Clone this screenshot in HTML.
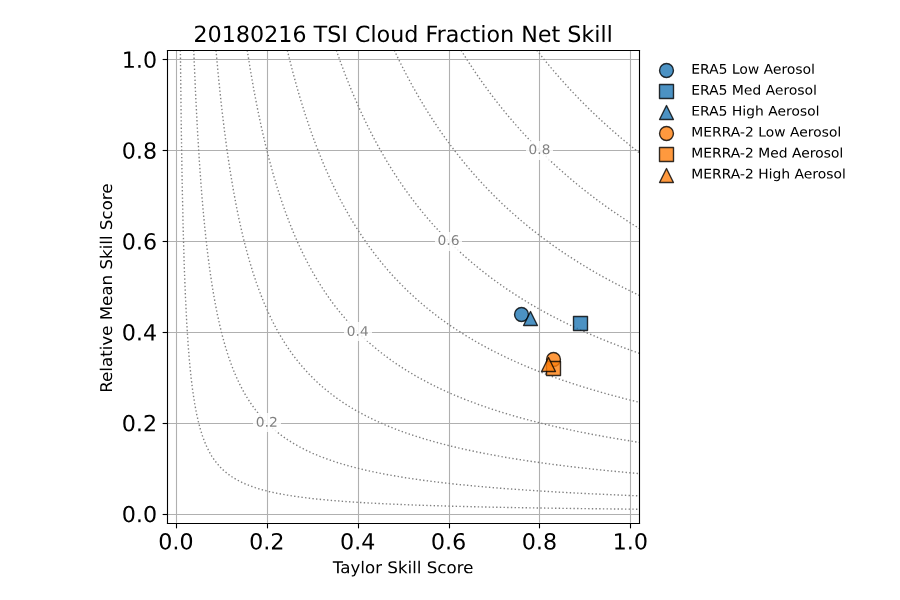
<!DOCTYPE html>
<html><head><meta charset="utf-8"><title>20180216 TSI Cloud Fraction Net Skill</title>
<style>html,body{margin:0;padding:0;background:#fff;width:900px;height:600px;overflow:hidden;font-family:"Liberation Sans",sans-serif}svg{display:block}</style>
</head><body>
<svg width="900" height="600" viewBox="0 0 648 432" version="1.1">
<defs>
<style type="text/css">*{stroke-linejoin: round; stroke-linecap: butt}</style>
</defs>
<g>
<g>
<path d="M 0 432 L 648 432 L 648 0 L 0 0 z
" style="fill: #ffffff"/>
</g>
<g>
<g>
<path d="M 120.11904 376.40736 L 460.37376 376.40736 L 460.37376 36.15264 L 120.11904 36.15264 z
" style="fill: #ffffff"/>
</g>
<g>
<g>
<g>
<path d="M 127.0800 376.9200 L 127.0800 36.3600 " clip-path="url(#p925bb05087)" style="fill: none; stroke: #b0b0b0; stroke-width: 0.8; stroke-linecap: square"/>
</g>
<g>
<defs>
<path id="m7c25c535dc" d="M 0 0 L 0 3.5 " style="stroke: #000000; stroke-width: 0.8"/>
</defs>
<g>
<use href="#m7c25c535dc" x="127.0800" y="376.9200" style="stroke: #000000; stroke-width: 0.8"/>
</g>
</g>
<g>
<g transform="translate(113.9399 395.5649) scale(0.16 -0.16)">
<defs>
<path id="DejaVuSans-30" d="M 2034 4250 Q 1547 4250 1301 3770 Q 1056 3291 1056 2328 Q 1056 1369 1301 889 Q 1547 409 2034 409 Q 2525 409 2770 889 Q 3016 1369 3016 2328 Q 3016 3291 2770 3770 Q 2525 4250 2034 4250 z
M 2034 4750 Q 2819 4750 3233 4129 Q 3647 3509 3647 2328 Q 3647 1150 3233 529 Q 2819 -91 2034 -91 Q 1250 -91 836 529 Q 422 1150 422 2328 Q 422 3509 836 4129 Q 1250 4750 2034 4750 z
" transform="scale(0.015625)"/>
<path id="DejaVuSans-2e" d="M 684 794 L 1344 794 L 1344 0 L 684 0 L 684 794 z
" transform="scale(0.015625)"/>
</defs>
<use href="#DejaVuSans-30"/>
<use href="#DejaVuSans-2e" transform="translate(63.623047 0)"/>
<use href="#DejaVuSans-30" transform="translate(95.410156 0)"/>
</g>
</g>
</g>
<g>
<g>
<path d="M 192.6000 376.9200 L 192.6000 36.3600 " clip-path="url(#p925bb05087)" style="fill: none; stroke: #b0b0b0; stroke-width: 0.8; stroke-linecap: square"/>
</g>
<g>
<g>
<use href="#m7c25c535dc" x="192.6000" y="376.9200" style="stroke: #000000; stroke-width: 0.8"/>
</g>
</g>
<g>
<g transform="translate(179.3735 395.5649) scale(0.16 -0.16)">
<defs>
<path id="DejaVuSans-32" d="M 1228 531 L 3431 531 L 3431 0 L 469 0 L 469 531 Q 828 903 1448 1529 Q 2069 2156 2228 2338 Q 2531 2678 2651 2914 Q 2772 3150 2772 3378 Q 2772 3750 2511 3984 Q 2250 4219 1831 4219 Q 1534 4219 1204 4116 Q 875 4013 500 3803 L 500 4441 Q 881 4594 1212 4672 Q 1544 4750 1819 4750 Q 2544 4750 2975 4387 Q 3406 4025 3406 3419 Q 3406 3131 3298 2873 Q 3191 2616 2906 2266 Q 2828 2175 2409 1742 Q 1991 1309 1228 531 z
" transform="scale(0.015625)"/>
</defs>
<use href="#DejaVuSans-30"/>
<use href="#DejaVuSans-2e" transform="translate(63.623047 0)"/>
<use href="#DejaVuSans-32" transform="translate(95.410156 0)"/>
</g>
</g>
</g>
<g>
<g>
<path d="M 258.1200 376.9200 L 258.1200 36.3600 " clip-path="url(#p925bb05087)" style="fill: none; stroke: #b0b0b0; stroke-width: 0.8; stroke-linecap: square"/>
</g>
<g>
<g>
<use href="#m7c25c535dc" x="258.1200" y="376.9200" style="stroke: #000000; stroke-width: 0.8"/>
</g>
</g>
<g>
<g transform="translate(244.8071 395.5649) scale(0.16 -0.16)">
<defs>
<path id="DejaVuSans-34" d="M 2419 4116 L 825 1625 L 2419 1625 L 2419 4116 z
M 2253 4666 L 3047 4666 L 3047 1625 L 3713 1625 L 3713 1100 L 3047 1100 L 3047 0 L 2419 0 L 2419 1100 L 313 1100 L 313 1709 L 2253 4666 z
" transform="scale(0.015625)"/>
</defs>
<use href="#DejaVuSans-30"/>
<use href="#DejaVuSans-2e" transform="translate(63.623047 0)"/>
<use href="#DejaVuSans-34" transform="translate(95.410156 0)"/>
</g>
</g>
</g>
<g>
<g>
<path d="M 323.6400 376.9200 L 323.6400 36.3600 " clip-path="url(#p925bb05087)" style="fill: none; stroke: #b0b0b0; stroke-width: 0.8; stroke-linecap: square"/>
</g>
<g>
<g>
<use href="#m7c25c535dc" x="323.6400" y="376.9200" style="stroke: #000000; stroke-width: 0.8"/>
</g>
</g>
<g>
<g transform="translate(310.2407 395.5649) scale(0.16 -0.16)">
<defs>
<path id="DejaVuSans-36" d="M 2113 2584 Q 1688 2584 1439 2293 Q 1191 2003 1191 1497 Q 1191 994 1439 701 Q 1688 409 2113 409 Q 2538 409 2786 701 Q 3034 994 3034 1497 Q 3034 2003 2786 2293 Q 2538 2584 2113 2584 z
M 3366 4563 L 3366 3988 Q 3128 4100 2886 4159 Q 2644 4219 2406 4219 Q 1781 4219 1451 3797 Q 1122 3375 1075 2522 Q 1259 2794 1537 2939 Q 1816 3084 2150 3084 Q 2853 3084 3261 2657 Q 3669 2231 3669 1497 Q 3669 778 3244 343 Q 2819 -91 2113 -91 Q 1303 -91 875 529 Q 447 1150 447 2328 Q 447 3434 972 4092 Q 1497 4750 2381 4750 Q 2619 4750 2861 4703 Q 3103 4656 3366 4563 z
" transform="scale(0.015625)"/>
</defs>
<use href="#DejaVuSans-30"/>
<use href="#DejaVuSans-2e" transform="translate(63.623047 0)"/>
<use href="#DejaVuSans-36" transform="translate(95.410156 0)"/>
</g>
</g>
</g>
<g>
<g>
<path d="M 388.4400 376.9200 L 388.4400 36.3600 " clip-path="url(#p925bb05087)" style="fill: none; stroke: #b0b0b0; stroke-width: 0.8; stroke-linecap: square"/>
</g>
<g>
<g>
<use href="#m7c25c535dc" x="388.4400" y="376.9200" style="stroke: #000000; stroke-width: 0.8"/>
</g>
</g>
<g>
<g transform="translate(375.6743 395.5649) scale(0.16 -0.16)">
<defs>
<path id="DejaVuSans-38" d="M 2034 2216 Q 1584 2216 1326 1975 Q 1069 1734 1069 1313 Q 1069 891 1326 650 Q 1584 409 2034 409 Q 2484 409 2743 651 Q 3003 894 3003 1313 Q 3003 1734 2745 1975 Q 2488 2216 2034 2216 z
M 1403 2484 Q 997 2584 770 2862 Q 544 3141 544 3541 Q 544 4100 942 4425 Q 1341 4750 2034 4750 Q 2731 4750 3128 4425 Q 3525 4100 3525 3541 Q 3525 3141 3298 2862 Q 3072 2584 2669 2484 Q 3125 2378 3379 2068 Q 3634 1759 3634 1313 Q 3634 634 3220 271 Q 2806 -91 2034 -91 Q 1263 -91 848 271 Q 434 634 434 1313 Q 434 1759 690 2068 Q 947 2378 1403 2484 z
M 1172 3481 Q 1172 3119 1398 2916 Q 1625 2713 2034 2713 Q 2441 2713 2670 2916 Q 2900 3119 2900 3481 Q 2900 3844 2670 4047 Q 2441 4250 2034 4250 Q 1625 4250 1398 4047 Q 1172 3844 1172 3481 z
" transform="scale(0.015625)"/>
</defs>
<use href="#DejaVuSans-30"/>
<use href="#DejaVuSans-2e" transform="translate(63.623047 0)"/>
<use href="#DejaVuSans-38" transform="translate(95.410156 0)"/>
</g>
</g>
</g>
<g>
<g>
<path d="M 453.9600 376.9200 L 453.9600 36.3600 " clip-path="url(#p925bb05087)" style="fill: none; stroke: #b0b0b0; stroke-width: 0.8; stroke-linecap: square"/>
</g>
<g>
<g>
<use href="#m7c25c535dc" x="453.9600" y="376.9200" style="stroke: #000000; stroke-width: 0.8"/>
</g>
</g>
<g>
<g transform="translate(441.1079 395.5649) scale(0.16 -0.16)">
<defs>
<path id="DejaVuSans-31" d="M 794 531 L 1825 531 L 1825 4091 L 703 3866 L 703 4441 L 1819 4666 L 2450 4666 L 2450 531 L 3481 531 L 3481 0 L 794 0 L 794 531 z
" transform="scale(0.015625)"/>
</defs>
<use href="#DejaVuSans-31"/>
<use href="#DejaVuSans-2e" transform="translate(63.623047 0)"/>
<use href="#DejaVuSans-30" transform="translate(95.410156 0)"/>
</g>
</g>
</g>
<g>
<g transform="translate(239.6383 412.6585) scale(0.12 -0.1164)">
<defs>
<path id="DejaVuSans-54" d="M -19 4666 L 3928 4666 L 3928 4134 L 2272 4134 L 2272 0 L 1638 0 L 1638 4134 L -19 4134 L -19 4666 z
" transform="scale(0.015625)"/>
<path id="DejaVuSans-61" d="M 2194 1759 Q 1497 1759 1228 1600 Q 959 1441 959 1056 Q 959 750 1161 570 Q 1363 391 1709 391 Q 2188 391 2477 730 Q 2766 1069 2766 1631 L 2766 1759 L 2194 1759 z
M 3341 1997 L 3341 0 L 2766 0 L 2766 531 Q 2569 213 2275 61 Q 1981 -91 1556 -91 Q 1019 -91 701 211 Q 384 513 384 1019 Q 384 1609 779 1909 Q 1175 2209 1959 2209 L 2766 2209 L 2766 2266 Q 2766 2663 2505 2880 Q 2244 3097 1772 3097 Q 1472 3097 1187 3025 Q 903 2953 641 2809 L 641 3341 Q 956 3463 1253 3523 Q 1550 3584 1831 3584 Q 2591 3584 2966 3190 Q 3341 2797 3341 1997 z
" transform="scale(0.015625)"/>
<path id="DejaVuSans-79" d="M 2059 -325 Q 1816 -950 1584 -1140 Q 1353 -1331 966 -1331 L 506 -1331 L 506 -850 L 844 -850 Q 1081 -850 1212 -737 Q 1344 -625 1503 -206 L 1606 56 L 191 3500 L 800 3500 L 1894 763 L 2988 3500 L 3597 3500 L 2059 -325 z
" transform="scale(0.015625)"/>
<path id="DejaVuSans-6c" d="M 603 4863 L 1178 4863 L 1178 0 L 603 0 L 603 4863 z
" transform="scale(0.015625)"/>
<path id="DejaVuSans-6f" d="M 1959 3097 Q 1497 3097 1228 2736 Q 959 2375 959 1747 Q 959 1119 1226 758 Q 1494 397 1959 397 Q 2419 397 2687 759 Q 2956 1122 2956 1747 Q 2956 2369 2687 2733 Q 2419 3097 1959 3097 z
M 1959 3584 Q 2709 3584 3137 3096 Q 3566 2609 3566 1747 Q 3566 888 3137 398 Q 2709 -91 1959 -91 Q 1206 -91 779 398 Q 353 888 353 1747 Q 353 2609 779 3096 Q 1206 3584 1959 3584 z
" transform="scale(0.015625)"/>
<path id="DejaVuSans-72" d="M 2631 2963 Q 2534 3019 2420 3045 Q 2306 3072 2169 3072 Q 1681 3072 1420 2755 Q 1159 2438 1159 1844 L 1159 0 L 581 0 L 581 3500 L 1159 3500 L 1159 2956 Q 1341 3275 1631 3429 Q 1922 3584 2338 3584 Q 2397 3584 2469 3576 Q 2541 3569 2628 3553 L 2631 2963 z
" transform="scale(0.015625)"/>
<path id="DejaVuSans-20" transform="scale(0.015625)"/>
<path id="DejaVuSans-53" d="M 3425 4513 L 3425 3897 Q 3066 4069 2747 4153 Q 2428 4238 2131 4238 Q 1616 4238 1336 4038 Q 1056 3838 1056 3469 Q 1056 3159 1242 3001 Q 1428 2844 1947 2747 L 2328 2669 Q 3034 2534 3370 2195 Q 3706 1856 3706 1288 Q 3706 609 3251 259 Q 2797 -91 1919 -91 Q 1588 -91 1214 -16 Q 841 59 441 206 L 441 856 Q 825 641 1194 531 Q 1563 422 1919 422 Q 2459 422 2753 634 Q 3047 847 3047 1241 Q 3047 1584 2836 1778 Q 2625 1972 2144 2069 L 1759 2144 Q 1053 2284 737 2584 Q 422 2884 422 3419 Q 422 4038 858 4394 Q 1294 4750 2059 4750 Q 2388 4750 2728 4690 Q 3069 4631 3425 4513 z
" transform="scale(0.015625)"/>
<path id="DejaVuSans-6b" d="M 581 4863 L 1159 4863 L 1159 1991 L 2875 3500 L 3609 3500 L 1753 1863 L 3688 0 L 2938 0 L 1159 1709 L 1159 0 L 581 0 L 581 4863 z
" transform="scale(0.015625)"/>
<path id="DejaVuSans-69" d="M 603 3500 L 1178 3500 L 1178 0 L 603 0 L 603 3500 z
M 603 4863 L 1178 4863 L 1178 4134 L 603 4134 L 603 4863 z
" transform="scale(0.015625)"/>
<path id="DejaVuSans-63" d="M 3122 3366 L 3122 2828 Q 2878 2963 2633 3030 Q 2388 3097 2138 3097 Q 1578 3097 1268 2742 Q 959 2388 959 1747 Q 959 1106 1268 751 Q 1578 397 2138 397 Q 2388 397 2633 464 Q 2878 531 3122 666 L 3122 134 Q 2881 22 2623 -34 Q 2366 -91 2075 -91 Q 1284 -91 818 406 Q 353 903 353 1747 Q 353 2603 823 3093 Q 1294 3584 2113 3584 Q 2378 3584 2631 3529 Q 2884 3475 3122 3366 z
" transform="scale(0.015625)"/>
<path id="DejaVuSans-65" d="M 3597 1894 L 3597 1613 L 953 1613 Q 991 1019 1311 708 Q 1631 397 2203 397 Q 2534 397 2845 478 Q 3156 559 3463 722 L 3463 178 Q 3153 47 2828 -22 Q 2503 -91 2169 -91 Q 1331 -91 842 396 Q 353 884 353 1716 Q 353 2575 817 3079 Q 1281 3584 2069 3584 Q 2775 3584 3186 3129 Q 3597 2675 3597 1894 z
M 3022 2063 Q 3016 2534 2758 2815 Q 2500 3097 2075 3097 Q 1594 3097 1305 2825 Q 1016 2553 972 2059 L 3022 2063 z
" transform="scale(0.015625)"/>
</defs>
<use href="#DejaVuSans-54"/>
<use href="#DejaVuSans-61" transform="translate(44.583984 0)"/>
<use href="#DejaVuSans-79" transform="translate(105.863281 0)"/>
<use href="#DejaVuSans-6c" transform="translate(165.042969 0)"/>
<use href="#DejaVuSans-6f" transform="translate(192.826172 0)"/>
<use href="#DejaVuSans-72" transform="translate(254.007812 0)"/>
<use href="#DejaVuSans-20" transform="translate(295.121094 0)"/>
<use href="#DejaVuSans-53" transform="translate(326.908203 0)"/>
<use href="#DejaVuSans-6b" transform="translate(390.384766 0)"/>
<use href="#DejaVuSans-69" transform="translate(448.294922 0)"/>
<use href="#DejaVuSans-6c" transform="translate(476.078125 0)"/>
<use href="#DejaVuSans-6c" transform="translate(503.861328 0)"/>
<use href="#DejaVuSans-20" transform="translate(531.644531 0)"/>
<use href="#DejaVuSans-53" transform="translate(563.431641 0)"/>
<use href="#DejaVuSans-63" transform="translate(626.908203 0)"/>
<use href="#DejaVuSans-6f" transform="translate(681.888672 0)"/>
<use href="#DejaVuSans-72" transform="translate(743.070312 0)"/>
<use href="#DejaVuSans-65" transform="translate(781.933594 0)"/>
</g>
</g>
</g>
<g>
<g>
<g>
<path d="M 120.6000 370.4400 L 460.4400 370.4400 " clip-path="url(#p925bb05087)" style="fill: none; stroke: #b0b0b0; stroke-width: 0.8; stroke-linecap: square"/>
</g>
<g>
<defs>
<path id="mb258c49b38" d="M 0 0 L -3.5 0 " style="stroke: #000000; stroke-width: 0.8"/>
</defs>
<g>
<use href="#mb258c49b38" x="120.6000" y="370.4400" style="stroke: #000000; stroke-width: 0.8"/>
</g>
</g>
<g>
<g transform="translate(87.6740 375.9427) scale(0.16 -0.16)">
<use href="#DejaVuSans-30"/>
<use href="#DejaVuSans-2e" transform="translate(63.623047 0)"/>
<use href="#DejaVuSans-30" transform="translate(95.410156 0)"/>
</g>
</g>
</g>
<g>
<g>
<path d="M 120.6000 304.9200 L 460.4400 304.9200 " clip-path="url(#p925bb05087)" style="fill: none; stroke: #b0b0b0; stroke-width: 0.8; stroke-linecap: square"/>
</g>
<g>
<g>
<use href="#mb258c49b38" x="120.6000" y="304.9200" style="stroke: #000000; stroke-width: 0.8"/>
</g>
</g>
<g>
<g transform="translate(87.6740 310.5091) scale(0.16 -0.16)">
<use href="#DejaVuSans-30"/>
<use href="#DejaVuSans-2e" transform="translate(63.623047 0)"/>
<use href="#DejaVuSans-32" transform="translate(95.410156 0)"/>
</g>
</g>
</g>
<g>
<g>
<path d="M 120.6000 239.4000 L 460.4400 239.4000 " clip-path="url(#p925bb05087)" style="fill: none; stroke: #b0b0b0; stroke-width: 0.8; stroke-linecap: square"/>
</g>
<g>
<g>
<use href="#mb258c49b38" x="120.6000" y="239.4000" style="stroke: #000000; stroke-width: 0.8"/>
</g>
</g>
<g>
<g transform="translate(87.6740 245.0755) scale(0.16 -0.16)">
<use href="#DejaVuSans-30"/>
<use href="#DejaVuSans-2e" transform="translate(63.623047 0)"/>
<use href="#DejaVuSans-34" transform="translate(95.410156 0)"/>
</g>
</g>
</g>
<g>
<g>
<path d="M 120.6000 173.8800 L 460.4400 173.8800 " clip-path="url(#p925bb05087)" style="fill: none; stroke: #b0b0b0; stroke-width: 0.8; stroke-linecap: square"/>
</g>
<g>
<g>
<use href="#mb258c49b38" x="120.6000" y="173.8800" style="stroke: #000000; stroke-width: 0.8"/>
</g>
</g>
<g>
<g transform="translate(87.6740 179.6420) scale(0.16 -0.16)">
<use href="#DejaVuSans-30"/>
<use href="#DejaVuSans-2e" transform="translate(63.623047 0)"/>
<use href="#DejaVuSans-36" transform="translate(95.410156 0)"/>
</g>
</g>
</g>
<g>
<g>
<path d="M 120.6000 108.3600 L 460.4400 108.3600 " clip-path="url(#p925bb05087)" style="fill: none; stroke: #b0b0b0; stroke-width: 0.8; stroke-linecap: square"/>
</g>
<g>
<g>
<use href="#mb258c49b38" x="120.6000" y="108.3600" style="stroke: #000000; stroke-width: 0.8"/>
</g>
</g>
<g>
<g transform="translate(87.6740 114.2083) scale(0.16 -0.16)">
<use href="#DejaVuSans-30"/>
<use href="#DejaVuSans-2e" transform="translate(63.623047 0)"/>
<use href="#DejaVuSans-38" transform="translate(95.410156 0)"/>
</g>
</g>
</g>
<g>
<g>
<path d="M 120.6000 42.8400 L 460.4400 42.8400 " clip-path="url(#p925bb05087)" style="fill: none; stroke: #b0b0b0; stroke-width: 0.8; stroke-linecap: square"/>
</g>
<g>
<g>
<use href="#mb258c49b38" x="120.6000" y="42.8400" style="stroke: #000000; stroke-width: 0.8"/>
</g>
</g>
<g>
<g transform="translate(87.6740 48.7747) scale(0.16 -0.16)">
<use href="#DejaVuSans-31"/>
<use href="#DejaVuSans-2e" transform="translate(63.623047 0)"/>
<use href="#DejaVuSans-30" transform="translate(95.410156 0)"/>
</g>
</g>
</g>
<g>
<g transform="translate(80.6384 282.7845) rotate(-90) scale(0.12 -0.1164)">
<defs>
<path id="DejaVuSans-52" d="M 2841 2188 Q 3044 2119 3236 1894 Q 3428 1669 3622 1275 L 4263 0 L 3584 0 L 2988 1197 Q 2756 1666 2539 1819 Q 2322 1972 1947 1972 L 1259 1972 L 1259 0 L 628 0 L 628 4666 L 2053 4666 Q 2853 4666 3247 4331 Q 3641 3997 3641 3322 Q 3641 2881 3436 2590 Q 3231 2300 2841 2188 z
M 1259 4147 L 1259 2491 L 2053 2491 Q 2509 2491 2742 2702 Q 2975 2913 2975 3322 Q 2975 3731 2742 3939 Q 2509 4147 2053 4147 L 1259 4147 z
" transform="scale(0.015625)"/>
<path id="DejaVuSans-74" d="M 1172 4494 L 1172 3500 L 2356 3500 L 2356 3053 L 1172 3053 L 1172 1153 Q 1172 725 1289 603 Q 1406 481 1766 481 L 2356 481 L 2356 0 L 1766 0 Q 1100 0 847 248 Q 594 497 594 1153 L 594 3053 L 172 3053 L 172 3500 L 594 3500 L 594 4494 L 1172 4494 z
" transform="scale(0.015625)"/>
<path id="DejaVuSans-76" d="M 191 3500 L 800 3500 L 1894 563 L 2988 3500 L 3597 3500 L 2284 0 L 1503 0 L 191 3500 z
" transform="scale(0.015625)"/>
<path id="DejaVuSans-4d" d="M 628 4666 L 1569 4666 L 2759 1491 L 3956 4666 L 4897 4666 L 4897 0 L 4281 0 L 4281 4097 L 3078 897 L 2444 897 L 1241 4097 L 1241 0 L 628 0 L 628 4666 z
" transform="scale(0.015625)"/>
<path id="DejaVuSans-6e" d="M 3513 2113 L 3513 0 L 2938 0 L 2938 2094 Q 2938 2591 2744 2837 Q 2550 3084 2163 3084 Q 1697 3084 1428 2787 Q 1159 2491 1159 1978 L 1159 0 L 581 0 L 581 3500 L 1159 3500 L 1159 2956 Q 1366 3272 1645 3428 Q 1925 3584 2291 3584 Q 2894 3584 3203 3211 Q 3513 2838 3513 2113 z
" transform="scale(0.015625)"/>
</defs>
<use href="#DejaVuSans-52"/>
<use href="#DejaVuSans-65" transform="translate(64.982422 0)"/>
<use href="#DejaVuSans-6c" transform="translate(126.505859 0)"/>
<use href="#DejaVuSans-61" transform="translate(154.289062 0)"/>
<use href="#DejaVuSans-74" transform="translate(215.568359 0)"/>
<use href="#DejaVuSans-69" transform="translate(254.777344 0)"/>
<use href="#DejaVuSans-76" transform="translate(282.560547 0)"/>
<use href="#DejaVuSans-65" transform="translate(341.740234 0)"/>
<use href="#DejaVuSans-20" transform="translate(403.263672 0)"/>
<use href="#DejaVuSans-4d" transform="translate(435.050781 0)"/>
<use href="#DejaVuSans-65" transform="translate(521.330078 0)"/>
<use href="#DejaVuSans-61" transform="translate(582.853516 0)"/>
<use href="#DejaVuSans-6e" transform="translate(644.132812 0)"/>
<use href="#DejaVuSans-20" transform="translate(707.511719 0)"/>
<use href="#DejaVuSans-53" transform="translate(739.298828 0)"/>
<use href="#DejaVuSans-6b" transform="translate(802.775391 0)"/>
<use href="#DejaVuSans-69" transform="translate(860.685547 0)"/>
<use href="#DejaVuSans-6c" transform="translate(888.46875 0)"/>
<use href="#DejaVuSans-6c" transform="translate(916.251953 0)"/>
<use href="#DejaVuSans-20" transform="translate(944.035156 0)"/>
<use href="#DejaVuSans-53" transform="translate(975.822266 0)"/>
<use href="#DejaVuSans-63" transform="translate(1039.298828 0)"/>
<use href="#DejaVuSans-6f" transform="translate(1094.279297 0)"/>
<use href="#DejaVuSans-72" transform="translate(1155.460938 0)"/>
<use href="#DejaVuSans-65" transform="translate(1194.324219 0)"/>
</g>
</g>
</g>
<g>
<path d="M 129.876693 36.15264 L 130.479954 88.979519 L 131.163709 131.775979 L 131.89648 165.210712 L 132.679945 191.958499 L 133.474419 212.688034 L 134.472273 232.748875 L 135.456298 248.128852 L 136.542652 261.502746 L 137.624805 272.201861 L 138.785193 281.563586 L 140.108705 290.256617 L 141.477823 297.612258 L 142.823961 303.63051 L 144.244374 308.980068 L 145.708866 313.66093 L 147.172796 317.673098 L 148.880168 321.685267 L 150.768125 325.459491 L 152.461092 328.372213 L 154.238276 331.046992 L 156.279108 333.721771 L 158.645987 336.396549 L 160.798545 338.507057 L 163.473324 340.785029 L 166.148103 342.754702 L 168.822881 344.475224 L 172.333703 346.42697 L 175.509828 347.950066 L 179.521996 349.613354 L 183.731447 351.107832 L 188.215027 352.473913 L 193.564584 353.863928 L 199.582836 355.184462 L 206.938478 356.529331 L 215.350205 357.794779 L 224.993234 358.976608 L 235.023654 359.983748 L 247.728853 361.020879 L 261.102747 361.900444 L 279.157503 362.8409 L 299.218343 363.657734 L 322.622657 364.399616 L 350.039139 365.069794 L 382.805178 365.680933 L 424.264248 366.260512 L 460.37376 366.649707 L 460.37376 366.649707 " clip-path="url(#p925bb05087)" style="fill: none; stroke-dasharray: 1,1.65; stroke-dashoffset: 0; stroke: #808080"/>
<path d="M 139.493544 36.15264 L 140.79583 66.912595 L 142.164672 93.660382 L 143.600303 117.064696 L 145.060336 137.125536 L 146.545247 154.511598 L 148.073286 169.891575 L 149.526342 182.596774 L 151.190883 195.301973 L 152.898996 206.669782 L 154.73931 217.368897 L 156.437288 226.061928 L 158.352825 234.754959 L 160.353705 242.779295 L 162.423538 250.134936 L 164.538873 256.821883 L 166.668504 262.840135 L 168.822881 268.310063 L 171.112192 273.53925 L 173.503744 278.458229 L 175.897166 282.900975 L 178.278233 286.913143 L 180.901527 290.925311 L 183.80627 294.93748 L 186.877638 298.759486 L 189.552416 301.783643 L 192.89589 305.220223 L 196.239363 308.326981 L 199.582836 311.148203 L 202.92631 313.72252 L 206.938478 316.528178 L 210.950646 319.067232 L 215.631509 321.739751 L 220.312371 324.144756 L 225.093938 326.366129 L 230.342792 328.567722 L 236.361044 330.833215 L 242.379296 332.863121 L 249.066242 334.884451 L 255.753189 336.696152 L 263.777525 338.637189 L 272.470556 340.49924 L 281.832282 342.270619 L 291.862702 343.945746 L 303.230511 345.614478 L 315.267015 347.162327 L 329.309604 348.73456 L 344.689581 350.225052 L 361.406948 351.623716 L 379.461704 352.926097 L 400.191239 354.209327 L 423.595553 355.442804 L 451.012035 356.661751 L 460.37376 357.032856 L 460.37376 357.032856 " clip-path="url(#p925bb05087)" style="fill: none; stroke-dasharray: 1,1.65; stroke-dashoffset: 0; stroke: #808080"/>
<path d="M 155.530576 36.15264 L 157.455072 57.013501 L 159.461156 76.148502 L 161.46724 93.077708 L 163.597779 109.04036 L 165.699662 123.082948 L 167.818546 135.788147 L 170.049217 147.824651 L 172.245556 158.523766 L 174.676427 169.22288 L 177.026341 178.584606 L 179.521996 187.616881 L 182.061636 195.970668 L 184.50865 203.326309 L 187.181623 210.68195 L 189.835359 217.368897 L 192.732413 224.055844 L 195.576554 230.074096 L 198.677273 236.092348 L 201.676928 241.441905 L 204.937396 246.791463 L 208.275867 251.825634 L 211.619341 256.471005 L 215.018963 260.834051 L 218.394634 264.846219 L 222.318455 269.153939 L 226.330623 273.20802 L 230.342792 276.948532 L 234.35496 280.410022 L 239.035822 284.136256 L 243.04799 287.091452 L 247.728853 290.291919 L 253.078411 293.659127 L 258.772367 296.943564 L 264.44622 299.946095 L 270.656378 302.961816 L 277.151419 305.848976 L 283.838366 308.572381 L 291.194007 311.312457 L 298.549648 313.818174 L 306.632721 316.335709 L 315.267015 318.785754 L 323.960046 321.036685 L 333.990466 323.398397 L 344.689581 325.67907 L 355.388696 327.745812 L 368.093895 329.961748 L 381.467788 332.055972 L 395.510376 334.030702 L 410.890354 335.969663 L 427.607721 337.852685 L 446.457577 339.740023 L 460.37376 340.995824 L 460.37376 340.995824 " clip-path="url(#p925bb05087)" style="fill: none; stroke-dasharray: 1,1.65; stroke-dashoffset: 0; stroke: #808080"/>
<path d="M 177.98333 36.15264 L 180.349986 50.863923 L 182.945404 65.575206 L 185.540248 78.986773 L 188.221104 91.654298 L 191.005053 103.690802 L 193.875772 115.058612 L 196.630008 125.089032 L 199.582836 135.002144 L 202.425159 143.812483 L 205.455168 152.505514 L 208.475539 160.52985 L 211.736554 168.554186 L 214.962814 175.909937 L 218.443728 183.265469 L 221.855097 189.952415 L 225.529717 196.639362 L 229.088176 202.657614 L 233.01757 208.835275 L 237.033206 214.694118 L 241.041906 220.132335 L 245.20713 225.393233 L 249.176552 230.074096 L 253.747105 235.101518 L 257.970283 239.435821 L 262.440136 243.729525 L 267.346877 248.128852 L 272.470556 252.406529 L 277.820114 256.563402 L 283.169671 260.436096 L 288.709992 264.177524 L 294.53748 267.846059 L 300.831972 271.533166 L 307.242679 275.023851 L 313.929626 278.410353 L 321.285267 281.866708 L 328.640909 285.071447 L 336.665245 288.311543 L 344.689581 291.312787 L 353.382612 294.32486 L 362.744337 297.320062 L 372.106063 300.087066 L 382.136483 302.826701 L 392.835598 305.521347 L 404.203407 308.156675 L 416.239911 310.721442 L 428.94511 313.207255 L 442.987698 315.722664 L 458.367676 318.23286 L 460.37376 318.54307 L 460.37376 318.54307 " clip-path="url(#p925bb05087)" style="fill: none; stroke-dasharray: 1,1.65; stroke-dashoffset: 0; stroke: #808080"/>
<path d="M 206.850795 36.15264 L 209.851445 48.189144 L 213.085115 60.225648 L 216.378814 71.593458 L 219.716702 82.292573 L 223.079732 92.322993 L 226.445528 101.684718 L 230.054898 111.046444 L 233.686265 119.828827 L 237.500366 128.432505 L 241.041906 135.908338 L 245.041296 143.812483 L 248.650067 150.49943 L 252.485435 157.186376 L 256.570005 163.873323 L 260.928613 170.56027 L 265.114915 176.586716 L 269.795777 182.907283 L 274.47664 188.827688 L 279.157503 194.384609 L 283.838366 199.610549 L 288.646018 204.663698 L 293.868786 209.823768 L 299.218343 214.785367 L 304.567901 219.448538 L 310.189489 224.055844 L 315.93571 228.482416 L 321.953962 232.839423 L 327.972214 236.935768 L 334.659161 241.209275 L 341.346108 245.216585 L 348.033054 248.981826 L 355.388696 252.869394 L 363.385914 256.821883 L 370.768673 260.24064 L 379.461704 264.010168 L 388.154735 267.529342 L 397.51646 271.066184 L 406.878186 274.366937 L 416.908606 277.667186 L 427.607721 280.945019 L 439.182494 284.238365 L 451.012035 287.360987 L 460.37376 289.675605 L 460.37376 289.675605 " clip-path="url(#p925bb05087)" style="fill: none; stroke-dasharray: 1,1.65; stroke-dashoffset: 0; stroke: #808080"/>
<path d="M 242.133684 36.15264 L 245.722769 46.213014 L 249.519096 56.21348 L 253.298885 65.575206 L 257.318636 74.936931 L 261.28668 83.629962 L 265.503355 92.322993 L 269.795777 100.646439 L 274.024454 108.371665 L 278.488808 116.060849 L 282.809104 123.082948 L 287.181839 129.805798 L 291.862702 136.607659 L 296.62528 143.143788 L 301.790567 149.830735 L 306.715312 155.848987 L 311.924921 161.867239 L 317.445206 167.885491 L 322.635607 173.235049 L 328.11652 178.584606 L 333.990466 184.003897 L 340.052312 189.283721 L 346.02697 194.201923 L 352.602287 199.314141 L 358.978405 203.995004 L 365.724804 208.675866 L 372.874687 213.356729 L 380.465551 218.037592 L 388.154735 222.501946 L 395.879961 226.730623 L 404.203407 231.023045 L 412.896438 235.23972 L 421.589469 239.207764 L 430.2825 242.948638 L 439.762393 246.791463 L 449.674645 250.567987 L 459.705065 254.161075 L 460.37376 254.392716 L 460.37376 254.392716 " clip-path="url(#p925bb05087)" style="fill: none; stroke-dasharray: 1,1.65; stroke-dashoffset: 0; stroke: #808080"/>
<path d="M 283.831349 36.15264 L 288.035164 44.845671 L 292.531396 53.656205 L 297.212259 62.334756 L 302.113116 70.924763 L 306.952599 78.949099 L 311.923542 86.755105 L 317.016126 94.329077 L 322.237159 101.684718 L 327.30352 108.456614 L 332.653077 115.245295 L 338.049628 121.745558 L 343.904475 128.432505 L 349.45817 134.450757 L 355.388696 140.55467 L 361.463345 146.487261 L 367.964581 152.505514 L 374.112147 157.905528 L 380.799094 163.482569 L 387.48604 168.773742 L 394.313992 173.903743 L 401.528629 179.047195 L 408.88427 184.02057 L 416.239911 188.741204 L 424.264248 193.624811 L 432.288584 198.252037 L 440.981614 202.998243 L 449.674645 207.489041 L 459.036371 212.062608 L 460.37376 212.695051 L 460.37376 212.695051 " clip-path="url(#p925bb05087)" style="fill: none; stroke-dasharray: 1,1.65; stroke-dashoffset: 0; stroke: #808080"/>
<path d="M 331.944313 36.15264 L 337.002188 44.176976 L 342.31548 52.201312 L 347.904117 60.225648 L 353.382612 67.707838 L 358.939915 74.936931 L 364.88119 82.292573 L 370.768673 89.228366 L 376.786926 95.980736 L 382.805178 102.415877 L 389.310824 109.04036 L 395.514237 115.058612 L 402.197323 121.238824 L 408.88427 127.12979 L 416.239911 133.29548 L 423.595553 139.155841 L 430.951194 144.732701 L 438.306836 150.046404 L 446.331172 155.564253 L 454.355508 160.81188 L 460.37376 164.582087 L 460.37376 164.582087 " clip-path="url(#p925bb05087)" style="fill: none; stroke-dasharray: 1,1.65; stroke-dashoffset: 0; stroke: #808080"/>
<path d="M 386.47239 36.15264 L 392.328143 43.508281 L 398.453998 50.863923 L 404.872102 58.223144 L 411.594073 65.575206 L 418.245995 72.516905 L 424.932942 79.183148 L 431.704601 85.636046 L 439.054145 92.322993 L 446.331172 98.640942 L 453.686813 104.74146 L 460.37376 110.05401 L 460.37376 110.05401 " clip-path="url(#p925bb05087)" style="fill: none; stroke-dasharray: 1,1.65; stroke-dashoffset: 0; stroke: #808080"/>
</g>
<g>
<path d="M 120.6000 376.9200 L 120.6000 36.3600 " style="fill: none; stroke: #000000; stroke-width: 0.8; stroke-linejoin: miter; stroke-linecap: square"/>
</g>
<g>
<path d="M 460.4400 376.9200 L 460.4400 36.3600 " style="fill: none; stroke: #000000; stroke-width: 0.8; stroke-linejoin: miter; stroke-linecap: square"/>
</g>
<g>
<path d="M 120.6000 376.9200 L 460.4400 376.9200 " style="fill: none; stroke: #000000; stroke-width: 0.8; stroke-linejoin: miter; stroke-linecap: square"/>
</g>
<g>
<path d="M 120.6000 36.3600 L 460.4400 36.3600 " style="fill: none; stroke: #000000; stroke-width: 0.8; stroke-linejoin: miter; stroke-linecap: square"/>
</g>
<g>
<g>
<path d="M 182.1600 311.0400 L 202.3200 311.0400 L 202.3200 297.3600 L 182.1600 297.3600 z
" style="fill: #ffffff; opacity: 0.85"/>
</g>
<g style="fill: #808080" transform="translate(184.1444 307.1898) scale(0.1 -0.095)">
<use href="#DejaVuSans-30"/>
<use href="#DejaVuSans-2e" transform="translate(63.623047 0)"/>
<use href="#DejaVuSans-32" transform="translate(95.410156 0)"/>
</g>
</g>
<g>
<g>
<path d="M 247.6800 245.5200 L 267.8400 245.5200 L 267.8400 231.8400 L 247.6800 231.8400 z
" style="fill: #ffffff; opacity: 0.85"/>
</g>
<g style="fill: #808080" transform="translate(249.5780 241.7562) scale(0.1 -0.095)">
<use href="#DejaVuSans-30"/>
<use href="#DejaVuSans-2e" transform="translate(63.623047 0)"/>
<use href="#DejaVuSans-34" transform="translate(95.410156 0)"/>
</g>
</g>
<g>
<g>
<path d="M 313.2000 180.7200 L 332.6400 180.7200 L 332.6400 167.0400 L 313.2000 167.0400 z
" style="fill: #ffffff; opacity: 0.85"/>
</g>
<g style="fill: #808080" transform="translate(315.0116 176.3226) scale(0.1 -0.095)">
<use href="#DejaVuSans-30"/>
<use href="#DejaVuSans-2e" transform="translate(63.623047 0)"/>
<use href="#DejaVuSans-36" transform="translate(95.410156 0)"/>
</g>
</g>
<g>
<g>
<path d="M 378.7200 115.2000 L 398.1600 115.2000 L 398.1600 101.5200 L 378.7200 101.5200 z
" style="fill: #ffffff; opacity: 0.85"/>
</g>
<g style="fill: #808080" transform="translate(380.4452 110.8890) scale(0.1 -0.095)">
<use href="#DejaVuSans-30"/>
<use href="#DejaVuSans-2e" transform="translate(63.623047 0)"/>
<use href="#DejaVuSans-38" transform="translate(95.410156 0)"/>
</g>
</g>
<g>
<defs>
<path id="m790ba78c6f" d="M 0 5 C 1.326016 5 2.597899 4.473168 3.535534 3.535534 C 4.473168 2.597899 5 1.326016 5 0 C 5 -1.326016 4.473168 -2.597899 3.535534 -3.535534 C 2.597899 -4.473168 1.326016 -5 0 -5 C -1.326016 -5 -2.597899 -4.473168 -3.535534 -3.535534 C -4.473168 -2.597899 -5 -1.326016 -5 0 C -5 1.326016 -4.473168 2.597899 -3.535534 3.535534 C -2.597899 4.473168 -1.326016 5 0 5 z
" style="stroke: #000000; stroke-opacity: 0.8"/>
</defs>
<g clip-path="url(#p925bb05087)">
<use href="#m790ba78c6f" x="375.4800" y="226.4400" style="fill: #1f77b4; fill-opacity: 0.8; stroke: #000000; stroke-opacity: 0.8"/>
</g>
</g>
<g>
<defs>
<path id="m80ea71dad6" d="M -4.6800 5.4000 L 5.4000 5.4000 L 5.4000 -4.6800 L -4.6800 -4.6800 z" style="stroke: #000000; stroke-opacity: 0.8"/>
</defs>
<g clip-path="url(#p925bb05087)">
<use href="#m80ea71dad6" x="417.6000" y="232.5600" style="fill: #1f77b4; fill-opacity: 0.8; stroke: #000000; stroke-opacity: 0.8"/>
</g>
</g>
<g>
<defs>
<path id="m7a0fe5529e" d="M 0 -5 L -5 5 L 5 5 z
" style="stroke: #000000; stroke-opacity: 0.8"/>
</defs>
<g clip-path="url(#p925bb05087)">
<use href="#m7a0fe5529e" x="381.9600" y="229.3200" style="fill: #1f77b4; fill-opacity: 0.8; stroke: #000000; stroke-opacity: 0.8"/>
</g>
</g>
<g>
<defs>
<path id="m3c21342e5d" d="M 0 5 C 1.326016 5 2.597899 4.473168 3.535534 3.535534 C 4.473168 2.597899 5 1.326016 5 0 C 5 -1.326016 4.473168 -2.597899 3.535534 -3.535534 C 2.597899 -4.473168 1.326016 -5 0 -5 C -1.326016 -5 -2.597899 -4.473168 -3.535534 -3.535534 C -4.473168 -2.597899 -5 -1.326016 -5 0 C -5 1.326016 -4.473168 2.597899 -3.535534 3.535534 C -2.597899 4.473168 -1.326016 5 0 5 z
" style="stroke: #000000; stroke-opacity: 0.8"/>
</defs>
<g clip-path="url(#p925bb05087)">
<use href="#m3c21342e5d" x="398.5200" y="258.8400" style="fill: #ff7f0e; fill-opacity: 0.8; stroke: #000000; stroke-opacity: 0.8"/>
</g>
</g>
<g>
<defs>
<path id="m910901002a" d="M -4.6800 5.4000 L 5.4000 5.4000 L 5.4000 -4.6800 L -4.6800 -4.6800 z" style="stroke: #000000; stroke-opacity: 0.8"/>
</defs>
<g clip-path="url(#p925bb05087)">
<use href="#m910901002a" x="398.1600" y="264.9600" style="fill: #ff7f0e; fill-opacity: 0.8; stroke: #000000; stroke-opacity: 0.8"/>
</g>
</g>
<g>
<defs>
<path id="mb6ee8391b1" d="M 0 -5 L -5 5 L 5 5 z
" style="stroke: #000000; stroke-opacity: 0.8"/>
</defs>
<g clip-path="url(#p925bb05087)">
<use href="#mb6ee8391b1" x="394.9200" y="262.4400" style="fill: #ff7f0e; fill-opacity: 0.8; stroke: #000000; stroke-opacity: 0.8"/>
</g>
</g>
<g>
<g>
<use href="#m790ba78c6f" x="479.8800" y="50.7600" style="fill: #1f77b4; fill-opacity: 0.8; stroke: #000000; stroke-opacity: 0.8"/>
</g>
</g>
<g>
<g>
<use href="#m80ea71dad6" x="479.5200" y="65.5200" style="fill: #1f77b4; fill-opacity: 0.8; stroke: #000000; stroke-opacity: 0.8"/>
</g>
</g>
<g>
<g>
<use href="#m7a0fe5529e" x="479.8800" y="81.0000" style="fill: #1f77b4; fill-opacity: 0.8; stroke: #000000; stroke-opacity: 0.8"/>
</g>
</g>
<g>
<g>
<use href="#m3c21342e5d" x="479.8800" y="96.1200" style="fill: #ff7f0e; fill-opacity: 0.8; stroke: #000000; stroke-opacity: 0.8"/>
</g>
</g>
<g>
<g>
<use href="#m910901002a" x="479.5200" y="110.8800" style="fill: #ff7f0e; fill-opacity: 0.8; stroke: #000000; stroke-opacity: 0.8"/>
</g>
</g>
<g>
<g>
<use href="#mb6ee8391b1" x="479.8800" y="126.3600" style="fill: #ff7f0e; fill-opacity: 0.8; stroke: #000000; stroke-opacity: 0.8"/>
</g>
</g>
<g>
<g transform="translate(139.2789 30.1526) scale(0.16 -0.16)">
<defs>
<path id="DejaVuSans-49" d="M 628 4666 L 1259 4666 L 1259 0 L 628 0 L 628 4666 z
" transform="scale(0.015625)"/>
<path id="DejaVuSans-43" d="M 4122 4306 L 4122 3641 Q 3803 3938 3442 4084 Q 3081 4231 2675 4231 Q 1875 4231 1450 3742 Q 1025 3253 1025 2328 Q 1025 1406 1450 917 Q 1875 428 2675 428 Q 3081 428 3442 575 Q 3803 722 4122 1019 L 4122 359 Q 3791 134 3420 21 Q 3050 -91 2638 -91 Q 1578 -91 968 557 Q 359 1206 359 2328 Q 359 3453 968 4101 Q 1578 4750 2638 4750 Q 3056 4750 3426 4639 Q 3797 4528 4122 4306 z
" transform="scale(0.015625)"/>
<path id="DejaVuSans-75" d="M 544 1381 L 544 3500 L 1119 3500 L 1119 1403 Q 1119 906 1312 657 Q 1506 409 1894 409 Q 2359 409 2629 706 Q 2900 1003 2900 1516 L 2900 3500 L 3475 3500 L 3475 0 L 2900 0 L 2900 538 Q 2691 219 2414 64 Q 2138 -91 1772 -91 Q 1169 -91 856 284 Q 544 659 544 1381 z
M 1991 3584 L 1991 3584 z
" transform="scale(0.015625)"/>
<path id="DejaVuSans-64" d="M 2906 2969 L 2906 4863 L 3481 4863 L 3481 0 L 2906 0 L 2906 525 Q 2725 213 2448 61 Q 2172 -91 1784 -91 Q 1150 -91 751 415 Q 353 922 353 1747 Q 353 2572 751 3078 Q 1150 3584 1784 3584 Q 2172 3584 2448 3432 Q 2725 3281 2906 2969 z
M 947 1747 Q 947 1113 1208 752 Q 1469 391 1925 391 Q 2381 391 2643 752 Q 2906 1113 2906 1747 Q 2906 2381 2643 2742 Q 2381 3103 1925 3103 Q 1469 3103 1208 2742 Q 947 2381 947 1747 z
" transform="scale(0.015625)"/>
<path id="DejaVuSans-46" d="M 628 4666 L 3309 4666 L 3309 4134 L 1259 4134 L 1259 2759 L 3109 2759 L 3109 2228 L 1259 2228 L 1259 0 L 628 0 L 628 4666 z
" transform="scale(0.015625)"/>
<path id="DejaVuSans-4e" d="M 628 4666 L 1478 4666 L 3547 763 L 3547 4666 L 4159 4666 L 4159 0 L 3309 0 L 1241 3903 L 1241 0 L 628 0 L 628 4666 z
" transform="scale(0.015625)"/>
</defs>
<use href="#DejaVuSans-32"/>
<use href="#DejaVuSans-30" transform="translate(63.623047 0)"/>
<use href="#DejaVuSans-31" transform="translate(127.246094 0)"/>
<use href="#DejaVuSans-38" transform="translate(190.869141 0)"/>
<use href="#DejaVuSans-30" transform="translate(254.492188 0)"/>
<use href="#DejaVuSans-32" transform="translate(318.115234 0)"/>
<use href="#DejaVuSans-31" transform="translate(381.738281 0)"/>
<use href="#DejaVuSans-36" transform="translate(445.361328 0)"/>
<use href="#DejaVuSans-20" transform="translate(508.984375 0)"/>
<use href="#DejaVuSans-54" transform="translate(540.771484 0)"/>
<use href="#DejaVuSans-53" transform="translate(601.855469 0)"/>
<use href="#DejaVuSans-49" transform="translate(665.332031 0)"/>
<use href="#DejaVuSans-20" transform="translate(694.824219 0)"/>
<use href="#DejaVuSans-43" transform="translate(726.611328 0)"/>
<use href="#DejaVuSans-6c" transform="translate(796.435547 0)"/>
<use href="#DejaVuSans-6f" transform="translate(824.21875 0)"/>
<use href="#DejaVuSans-75" transform="translate(885.400391 0)"/>
<use href="#DejaVuSans-64" transform="translate(948.779297 0)"/>
<use href="#DejaVuSans-20" transform="translate(1012.255859 0)"/>
<use href="#DejaVuSans-46" transform="translate(1044.042969 0)"/>
<use href="#DejaVuSans-72" transform="translate(1094.3125 0)"/>
<use href="#DejaVuSans-61" transform="translate(1135.425781 0)"/>
<use href="#DejaVuSans-63" transform="translate(1196.705078 0)"/>
<use href="#DejaVuSans-74" transform="translate(1251.685547 0)"/>
<use href="#DejaVuSans-69" transform="translate(1290.894531 0)"/>
<use href="#DejaVuSans-6f" transform="translate(1318.677734 0)"/>
<use href="#DejaVuSans-6e" transform="translate(1379.859375 0)"/>
<use href="#DejaVuSans-20" transform="translate(1443.238281 0)"/>
<use href="#DejaVuSans-4e" transform="translate(1475.025391 0)"/>
<use href="#DejaVuSans-65" transform="translate(1549.830078 0)"/>
<use href="#DejaVuSans-74" transform="translate(1611.353516 0)"/>
<use href="#DejaVuSans-20" transform="translate(1650.5625 0)"/>
<use href="#DejaVuSans-53" transform="translate(1682.349609 0)"/>
<use href="#DejaVuSans-6b" transform="translate(1745.826172 0)"/>
<use href="#DejaVuSans-69" transform="translate(1803.736328 0)"/>
<use href="#DejaVuSans-6c" transform="translate(1831.519531 0)"/>
<use href="#DejaVuSans-6c" transform="translate(1859.302734 0)"/>
</g>
</g>
</g>
<g>
<g transform="translate(497.6989 53.0726) scale(0.1 -0.095)">
<defs>
<path id="DejaVuSans-45" d="M 628 4666 L 3578 4666 L 3578 4134 L 1259 4134 L 1259 2753 L 3481 2753 L 3481 2222 L 1259 2222 L 1259 531 L 3634 531 L 3634 0 L 628 0 L 628 4666 z
" transform="scale(0.015625)"/>
<path id="DejaVuSans-41" d="M 2188 4044 L 1331 1722 L 3047 1722 L 2188 4044 z
M 1831 4666 L 2547 4666 L 4325 0 L 3669 0 L 3244 1197 L 1141 1197 L 716 0 L 50 0 L 1831 4666 z
" transform="scale(0.015625)"/>
<path id="DejaVuSans-35" d="M 691 4666 L 3169 4666 L 3169 4134 L 1269 4134 L 1269 2991 Q 1406 3038 1543 3061 Q 1681 3084 1819 3084 Q 2600 3084 3056 2656 Q 3513 2228 3513 1497 Q 3513 744 3044 326 Q 2575 -91 1722 -91 Q 1428 -91 1123 -41 Q 819 9 494 109 L 494 744 Q 775 591 1075 516 Q 1375 441 1709 441 Q 2250 441 2565 725 Q 2881 1009 2881 1497 Q 2881 1984 2565 2268 Q 2250 2553 1709 2553 Q 1456 2553 1204 2497 Q 953 2441 691 2322 L 691 4666 z
" transform="scale(0.015625)"/>
<path id="DejaVuSans-4c" d="M 628 4666 L 1259 4666 L 1259 531 L 3531 531 L 3531 0 L 628 0 L 628 4666 z
" transform="scale(0.015625)"/>
<path id="DejaVuSans-77" d="M 269 3500 L 844 3500 L 1563 769 L 2278 3500 L 2956 3500 L 3675 769 L 4391 3500 L 4966 3500 L 4050 0 L 3372 0 L 2619 2869 L 1863 0 L 1184 0 L 269 3500 z
" transform="scale(0.015625)"/>
<path id="DejaVuSans-73" d="M 2834 3397 L 2834 2853 Q 2591 2978 2328 3040 Q 2066 3103 1784 3103 Q 1356 3103 1142 2972 Q 928 2841 928 2578 Q 928 2378 1081 2264 Q 1234 2150 1697 2047 L 1894 2003 Q 2506 1872 2764 1633 Q 3022 1394 3022 966 Q 3022 478 2636 193 Q 2250 -91 1575 -91 Q 1294 -91 989 -36 Q 684 19 347 128 L 347 722 Q 666 556 975 473 Q 1284 391 1588 391 Q 1994 391 2212 530 Q 2431 669 2431 922 Q 2431 1156 2273 1281 Q 2116 1406 1581 1522 L 1381 1569 Q 847 1681 609 1914 Q 372 2147 372 2553 Q 372 3047 722 3315 Q 1072 3584 1716 3584 Q 2034 3584 2315 3537 Q 2597 3491 2834 3397 z
" transform="scale(0.015625)"/>
</defs>
<use href="#DejaVuSans-45"/>
<use href="#DejaVuSans-52" transform="translate(63.183594 0)"/>
<use href="#DejaVuSans-41" transform="translate(128.666016 0)"/>
<use href="#DejaVuSans-35" transform="translate(197.074219 0)"/>
<use href="#DejaVuSans-20" transform="translate(260.697266 0)"/>
<use href="#DejaVuSans-4c" transform="translate(292.484375 0)"/>
<use href="#DejaVuSans-6f" transform="translate(346.447266 0)"/>
<use href="#DejaVuSans-77" transform="translate(407.628906 0)"/>
<use href="#DejaVuSans-20" transform="translate(489.416016 0)"/>
<use href="#DejaVuSans-41" transform="translate(521.203125 0)"/>
<use href="#DejaVuSans-65" transform="translate(587.861328 0)"/>
<use href="#DejaVuSans-72" transform="translate(649.384766 0)"/>
<use href="#DejaVuSans-6f" transform="translate(688.248047 0)"/>
<use href="#DejaVuSans-73" transform="translate(749.429688 0)"/>
<use href="#DejaVuSans-6f" transform="translate(801.529297 0)"/>
<use href="#DejaVuSans-6c" transform="translate(862.710938 0)"/>
</g>
</g>
<g>
<g transform="translate(497.6989 68.1526) scale(0.1 -0.095)">
<use href="#DejaVuSans-45"/>
<use href="#DejaVuSans-52" transform="translate(63.183594 0)"/>
<use href="#DejaVuSans-41" transform="translate(128.666016 0)"/>
<use href="#DejaVuSans-35" transform="translate(197.074219 0)"/>
<use href="#DejaVuSans-20" transform="translate(260.697266 0)"/>
<use href="#DejaVuSans-4d" transform="translate(292.484375 0)"/>
<use href="#DejaVuSans-65" transform="translate(378.763672 0)"/>
<use href="#DejaVuSans-64" transform="translate(440.287109 0)"/>
<use href="#DejaVuSans-20" transform="translate(503.763672 0)"/>
<use href="#DejaVuSans-41" transform="translate(535.550781 0)"/>
<use href="#DejaVuSans-65" transform="translate(602.208984 0)"/>
<use href="#DejaVuSans-72" transform="translate(663.732422 0)"/>
<use href="#DejaVuSans-6f" transform="translate(702.595703 0)"/>
<use href="#DejaVuSans-73" transform="translate(763.777344 0)"/>
<use href="#DejaVuSans-6f" transform="translate(815.876953 0)"/>
<use href="#DejaVuSans-6c" transform="translate(877.058594 0)"/>
</g>
</g>
<g>
<g transform="translate(497.6989 83.2326) scale(0.1 -0.095)">
<defs>
<path id="DejaVuSans-48" d="M 628 4666 L 1259 4666 L 1259 2753 L 3553 2753 L 3553 4666 L 4184 4666 L 4184 0 L 3553 0 L 3553 2222 L 1259 2222 L 1259 0 L 628 0 L 628 4666 z
" transform="scale(0.015625)"/>
<path id="DejaVuSans-67" d="M 2906 1791 Q 2906 2416 2648 2759 Q 2391 3103 1925 3103 Q 1463 3103 1205 2759 Q 947 2416 947 1791 Q 947 1169 1205 825 Q 1463 481 1925 481 Q 2391 481 2648 825 Q 2906 1169 2906 1791 z
M 3481 434 Q 3481 -459 3084 -895 Q 2688 -1331 1869 -1331 Q 1566 -1331 1297 -1286 Q 1028 -1241 775 -1147 L 775 -588 Q 1028 -725 1275 -790 Q 1522 -856 1778 -856 Q 2344 -856 2625 -561 Q 2906 -266 2906 331 L 2906 616 Q 2728 306 2450 153 Q 2172 0 1784 0 Q 1141 0 747 490 Q 353 981 353 1791 Q 353 2603 747 3093 Q 1141 3584 1784 3584 Q 2172 3584 2450 3431 Q 2728 3278 2906 2969 L 2906 3500 L 3481 3500 L 3481 434 z
" transform="scale(0.015625)"/>
<path id="DejaVuSans-68" d="M 3513 2113 L 3513 0 L 2938 0 L 2938 2094 Q 2938 2591 2744 2837 Q 2550 3084 2163 3084 Q 1697 3084 1428 2787 Q 1159 2491 1159 1978 L 1159 0 L 581 0 L 581 4863 L 1159 4863 L 1159 2956 Q 1366 3272 1645 3428 Q 1925 3584 2291 3584 Q 2894 3584 3203 3211 Q 3513 2838 3513 2113 z
" transform="scale(0.015625)"/>
</defs>
<use href="#DejaVuSans-45"/>
<use href="#DejaVuSans-52" transform="translate(63.183594 0)"/>
<use href="#DejaVuSans-41" transform="translate(128.666016 0)"/>
<use href="#DejaVuSans-35" transform="translate(197.074219 0)"/>
<use href="#DejaVuSans-20" transform="translate(260.697266 0)"/>
<use href="#DejaVuSans-48" transform="translate(292.484375 0)"/>
<use href="#DejaVuSans-69" transform="translate(367.679688 0)"/>
<use href="#DejaVuSans-67" transform="translate(395.462891 0)"/>
<use href="#DejaVuSans-68" transform="translate(458.939453 0)"/>
<use href="#DejaVuSans-20" transform="translate(522.318359 0)"/>
<use href="#DejaVuSans-41" transform="translate(554.105469 0)"/>
<use href="#DejaVuSans-65" transform="translate(620.763672 0)"/>
<use href="#DejaVuSans-72" transform="translate(682.287109 0)"/>
<use href="#DejaVuSans-6f" transform="translate(721.150391 0)"/>
<use href="#DejaVuSans-73" transform="translate(782.332031 0)"/>
<use href="#DejaVuSans-6f" transform="translate(834.431641 0)"/>
<use href="#DejaVuSans-6c" transform="translate(895.613281 0)"/>
</g>
</g>
<g>
<g transform="translate(497.6989 98.3126) scale(0.1 -0.095)">
<defs>
<path id="DejaVuSans-2d" d="M 313 2009 L 1997 2009 L 1997 1497 L 313 1497 L 313 2009 z
" transform="scale(0.015625)"/>
</defs>
<use href="#DejaVuSans-4d"/>
<use href="#DejaVuSans-45" transform="translate(86.279297 0)"/>
<use href="#DejaVuSans-52" transform="translate(149.462891 0)"/>
<use href="#DejaVuSans-52" transform="translate(218.945312 0)"/>
<use href="#DejaVuSans-41" transform="translate(284.427734 0)"/>
<use href="#DejaVuSans-2d" transform="translate(350.585938 0)"/>
<use href="#DejaVuSans-32" transform="translate(386.669922 0)"/>
<use href="#DejaVuSans-20" transform="translate(450.292969 0)"/>
<use href="#DejaVuSans-4c" transform="translate(482.080078 0)"/>
<use href="#DejaVuSans-6f" transform="translate(536.042969 0)"/>
<use href="#DejaVuSans-77" transform="translate(597.224609 0)"/>
<use href="#DejaVuSans-20" transform="translate(679.011719 0)"/>
<use href="#DejaVuSans-41" transform="translate(710.798828 0)"/>
<use href="#DejaVuSans-65" transform="translate(777.457031 0)"/>
<use href="#DejaVuSans-72" transform="translate(838.980469 0)"/>
<use href="#DejaVuSans-6f" transform="translate(877.84375 0)"/>
<use href="#DejaVuSans-73" transform="translate(939.025391 0)"/>
<use href="#DejaVuSans-6f" transform="translate(991.125 0)"/>
<use href="#DejaVuSans-6c" transform="translate(1052.306641 0)"/>
</g>
</g>
<g>
<g transform="translate(497.6989 113.3926) scale(0.1 -0.095)">
<use href="#DejaVuSans-4d"/>
<use href="#DejaVuSans-45" transform="translate(86.279297 0)"/>
<use href="#DejaVuSans-52" transform="translate(149.462891 0)"/>
<use href="#DejaVuSans-52" transform="translate(218.945312 0)"/>
<use href="#DejaVuSans-41" transform="translate(284.427734 0)"/>
<use href="#DejaVuSans-2d" transform="translate(350.585938 0)"/>
<use href="#DejaVuSans-32" transform="translate(386.669922 0)"/>
<use href="#DejaVuSans-20" transform="translate(450.292969 0)"/>
<use href="#DejaVuSans-4d" transform="translate(482.080078 0)"/>
<use href="#DejaVuSans-65" transform="translate(568.359375 0)"/>
<use href="#DejaVuSans-64" transform="translate(629.882812 0)"/>
<use href="#DejaVuSans-20" transform="translate(693.359375 0)"/>
<use href="#DejaVuSans-41" transform="translate(725.146484 0)"/>
<use href="#DejaVuSans-65" transform="translate(791.804688 0)"/>
<use href="#DejaVuSans-72" transform="translate(853.328125 0)"/>
<use href="#DejaVuSans-6f" transform="translate(892.191406 0)"/>
<use href="#DejaVuSans-73" transform="translate(953.373047 0)"/>
<use href="#DejaVuSans-6f" transform="translate(1005.472656 0)"/>
<use href="#DejaVuSans-6c" transform="translate(1066.654297 0)"/>
</g>
</g>
<g>
<g transform="translate(497.6989 128.4726) scale(0.1 -0.095)">
<use href="#DejaVuSans-4d"/>
<use href="#DejaVuSans-45" transform="translate(86.279297 0)"/>
<use href="#DejaVuSans-52" transform="translate(149.462891 0)"/>
<use href="#DejaVuSans-52" transform="translate(218.945312 0)"/>
<use href="#DejaVuSans-41" transform="translate(284.427734 0)"/>
<use href="#DejaVuSans-2d" transform="translate(350.585938 0)"/>
<use href="#DejaVuSans-32" transform="translate(386.669922 0)"/>
<use href="#DejaVuSans-20" transform="translate(450.292969 0)"/>
<use href="#DejaVuSans-48" transform="translate(482.080078 0)"/>
<use href="#DejaVuSans-69" transform="translate(557.275391 0)"/>
<use href="#DejaVuSans-67" transform="translate(585.058594 0)"/>
<use href="#DejaVuSans-68" transform="translate(648.535156 0)"/>
<use href="#DejaVuSans-20" transform="translate(711.914062 0)"/>
<use href="#DejaVuSans-41" transform="translate(743.701172 0)"/>
<use href="#DejaVuSans-65" transform="translate(810.359375 0)"/>
<use href="#DejaVuSans-72" transform="translate(871.882812 0)"/>
<use href="#DejaVuSans-6f" transform="translate(910.746094 0)"/>
<use href="#DejaVuSans-73" transform="translate(971.927734 0)"/>
<use href="#DejaVuSans-6f" transform="translate(1024.027344 0)"/>
<use href="#DejaVuSans-6c" transform="translate(1085.208984 0)"/>
</g>
</g>
</g>
<defs>
<clipPath id="p925bb05087">
<rect x="120.11904" y="36.15264" width="340.25472" height="340.25472"/>
</clipPath>
</defs>
</svg>

</body></html>
